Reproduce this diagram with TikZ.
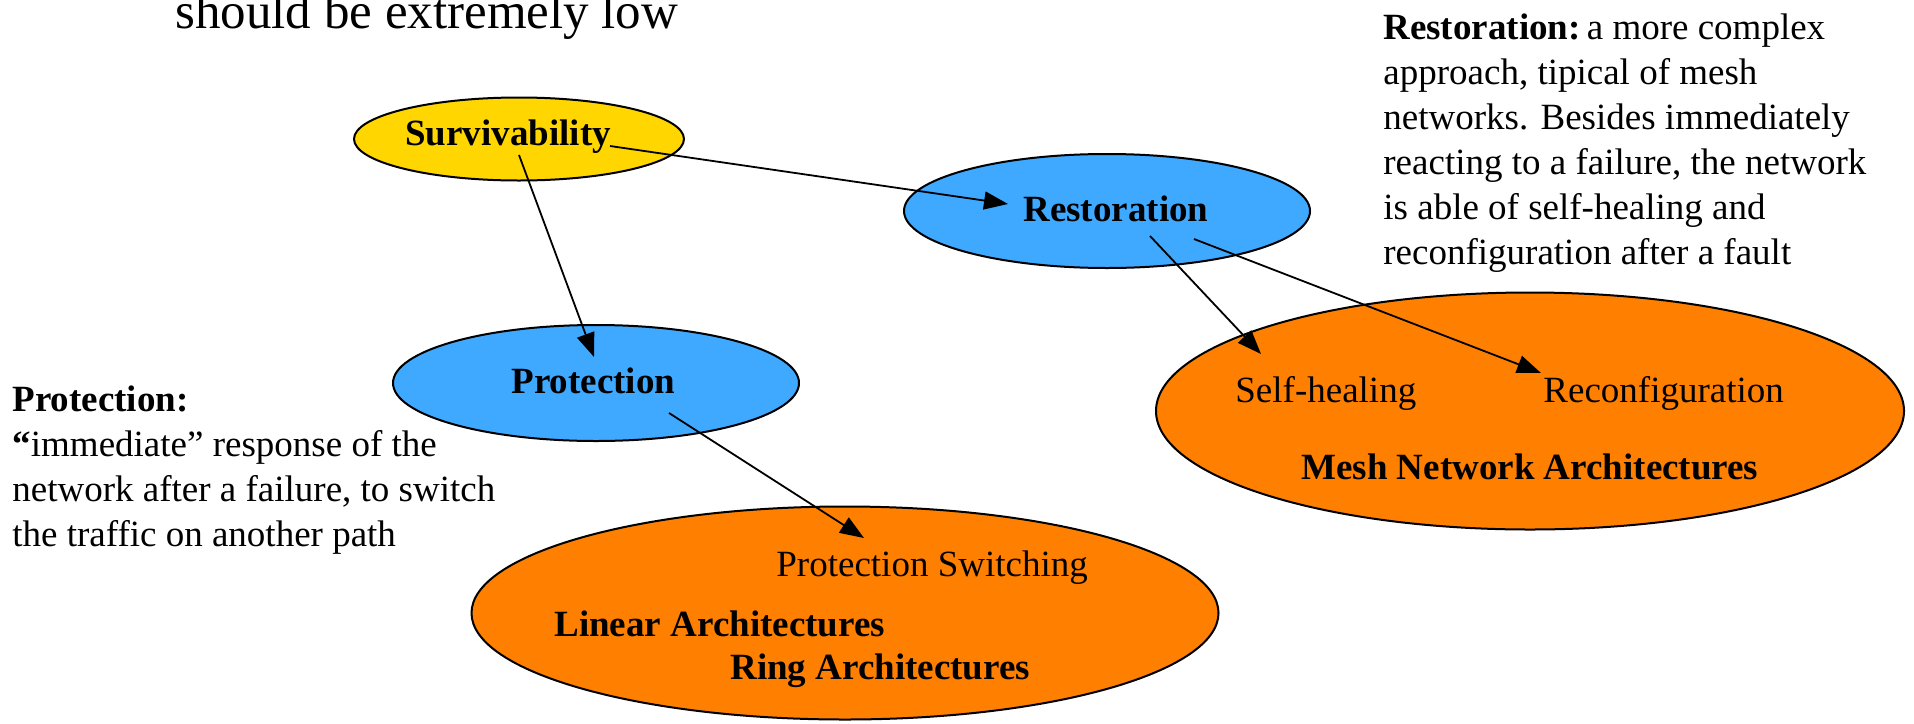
\documentclass[tikz,border=0pt]{standalone}
\usepackage{fontspec}
\setmainfont{Liberation Serif}
\usetikzlibrary{arrows.meta,shapes.geometric}
\definecolor{survgold}{RGB}{255,214,0}
\definecolor{skyfill}{RGB}{63,169,255}
\definecolor{orfill}{RGB}{255,127,0}
\begin{document}
\begin{tikzpicture}[x=0.5pt,y=-0.5pt,
  oval/.style={draw=black,line width=1pt,ellipse,inner sep=0pt},
  lbl/.style={inner sep=0pt,anchor=base west,font=\fontsize{18.5}{22.5}\selectfont},
  blbl/.style={lbl,font=\fontsize{18.5}{22.5}\selectfont\bfseries},
  para/.style={inner sep=0pt,anchor=north west,align=left,font=\fontsize{18.5}{22.5}\selectfont},
  conn/.style={line width=0.9pt,-{Triangle[length=12pt,width=9pt]}}]
\useasboundingbox (0,0) rectangle (1914,723);
% ellipses
\node[oval,fill=orfill,minimum width=373.5pt,minimum height=106.5pt] (protarch) at (845,613) {};
\node[oval,fill=orfill,minimum width=374pt,minimum height=118.5pt] (mesharch) at (1530,411) {};
\node[oval,fill=survgold,minimum width=165pt,minimum height=41.5pt] (surv) at (519,139) {};
\node[oval,fill=skyfill,minimum width=203pt,minimum height=57pt] (rest) at (1107,211) {};
\node[oval,fill=skyfill,minimum width=203pt,minimum height=58pt] (prot) at (596,383) {};
% labels
\node[lbl,font=\fontsize{25.5}{30}\selectfont] (title) at (175,28) {should be extremely low};
\node[blbl] (survtext) at (405,145) {Survivability};
\node[blbl] (resttext) at (1023,221) {Restoration};
\node[blbl] (prottext) at (511,393) {Protection};
\node[lbl] (pswitch) at (776,576) {Protection Switching};
\node[blbl] (linear) at (554,636) {Linear Architectures};
\node[blbl] (ring) at (730,679) {Ring Architectures};
\node[lbl] (selfheal) at (1235,402) {Self-healing};
\node[lbl] (reconf) at (1543,402) {Reconfiguration};
\node[blbl] (mesh) at (1301,479) {Mesh Network Architectures};
\node[para] (restpara) at (1383,13) {\textbf{Restoration:}\,a more complex\\approach, tipical of mesh\\networks. Besides immediately\\reacting to a failure, the network\\is able of self-healing and\\reconfiguration after a fault};
\node[para] (protpara) at (12,385) {\textbf{Protection:}\\{\bfseries“}immediate” response of the\\network after a failure, to switch\\the traffic on another path};
% connector end points
\coordinate (a1s) at (610,146); \coordinate (a1e) at (1008,204);
\coordinate (a2s) at (519,155); \coordinate (a2e) at (594,357);
\coordinate (a3s) at (669,413); \coordinate (a3e) at (864,538);
\coordinate (a4s) at (1150,236); \coordinate (a4e) at (1261,354);
\coordinate (a5s) at (1194,239); \coordinate (a5e) at (1541,373);
\draw[conn] (a1s) -- (a1e);
\draw[conn] (a2s) -- (a2e);
\draw[conn] (a3s) -- (a3e);
\draw[conn] (a4s) -- (a4e);
\draw[conn] (a5s) -- (a5e);
\end{tikzpicture}
\end{document}
